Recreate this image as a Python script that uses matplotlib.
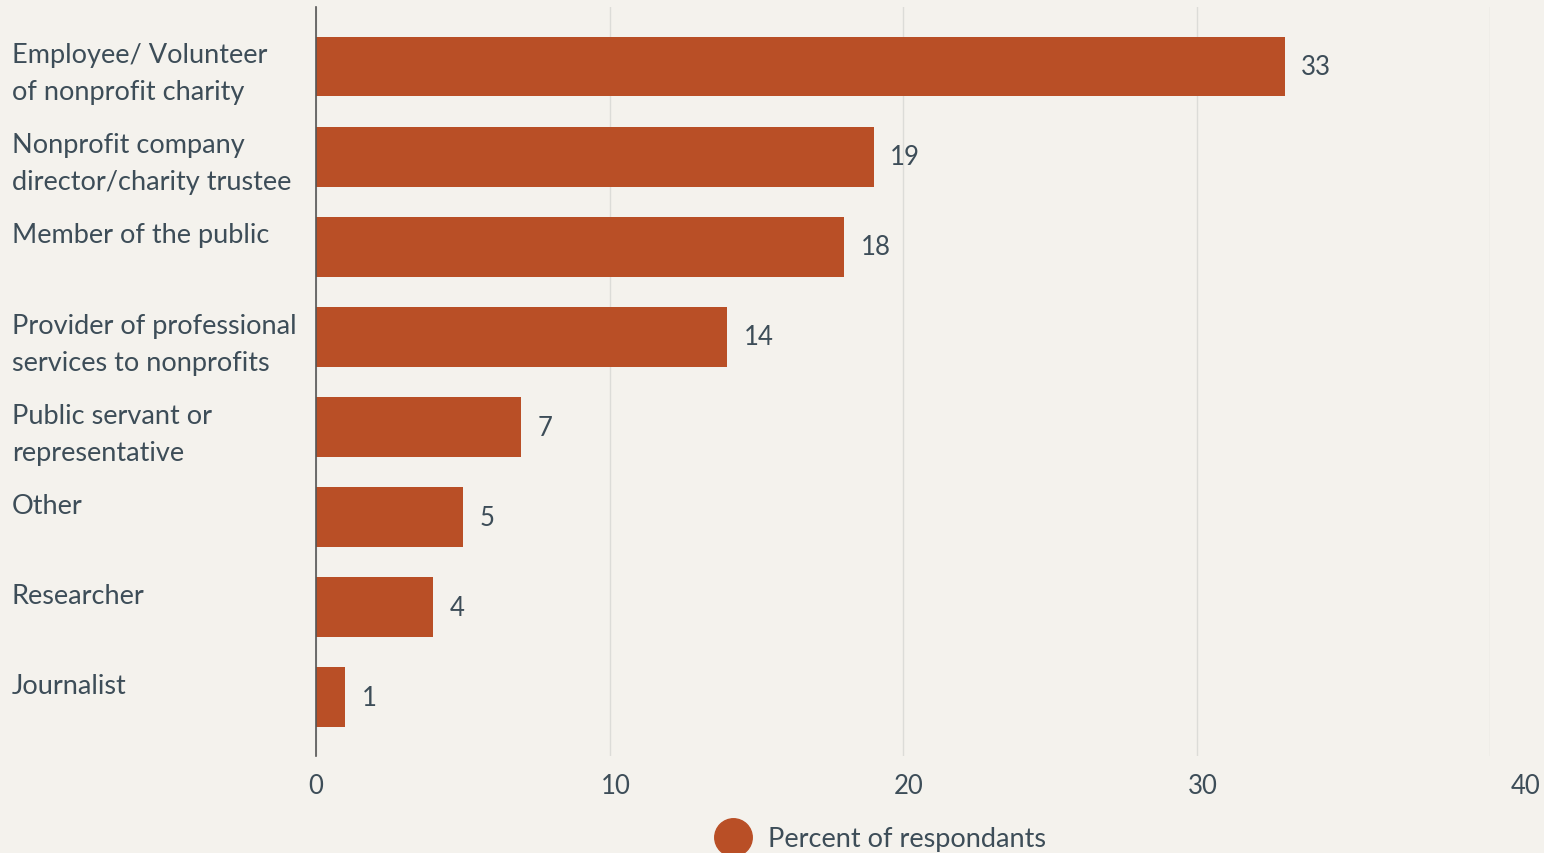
import matplotlib
matplotlib.use("Agg")
import matplotlib.pyplot as plt
import matplotlib.transforms as mtransforms
from matplotlib.lines import Line2D

# survey respondents by role, percent
roles = [
    "Employee/ Volunteer\nof nonprofit charity",
    "Nonprofit company\ndirector/charity trustee",
    "Member of the public",
    "Provider of professional\nservices to nonprofits",
    "Public servant or\nrepresentative",
    "Other",
    "Researcher",
    "Journalist",
]
percents = [33, 19, 18, 14, 7, 5, 4, 1]
x_ticks = [0, 10, 20, 30, 40]

BG = "#f4f2ed"
BAR = "#b94f26"
TEXT = "#3d4d58"

plt.rcParams["font.family"] = ["Lato", "DejaVu Sans"]

fig = plt.figure(figsize=(15.44, 8.54), dpi=100, facecolor=BG)
ax = fig.add_axes([316 / 1544, 1 - 757 / 854, (1490 - 316) / 1544, (757 - 8) / 854])
ax.set_facecolor(BG)

ypos = list(range(len(roles)))
ax.barh(ypos, percents, height=0.665, color=BAR, zorder=3)

for y, v in zip(ypos, percents):
    ax.annotate(str(v), (v, y), xytext=(12, 0), textcoords="offset points",
                va="center", ha="left", fontsize=18.5, color=TEXT)

# category names sit flush left, starting level with the top of each bar
label_tf = mtransforms.blended_transform_factory(fig.transFigure, ax.transData)
for y, name in zip(ypos, roles):
    ax.text(12 / 1544, y - 0.27, name, transform=label_tf,
            ha="left", va="top", fontsize=19.5, color=TEXT, linespacing=1.6)

ax.set_xlim(0, 40)
ax.set_ylim(len(roles) - 1 + 0.65, -0.66)
ax.set_xticks(x_ticks)
ax.set_xticklabels([str(t) for t in x_ticks], fontsize=18.5, color=TEXT)
ax.set_yticks([])
ax.tick_params(axis="x", length=0, pad=12)

# nudge the tick labels slightly right of their gridlines
shifts = [0, 6, 6, 6, 36]
for lab, dx in zip(ax.get_xticklabels(), shifts):
    lab.set_transform(lab.get_transform() +
                      mtransforms.ScaledTranslation(dx / 100, 0, fig.dpi_scale_trans))

ax.grid(axis="x", color="#dcdcd8", linewidth=1, zorder=0)
for side in ["top", "right", "bottom"]:
    ax.spines[side].set_visible(False)
ax.spines["left"].set_color("#555555")
ax.spines["left"].set_linewidth(1.2)
ax.spines["left"].set_zorder(4)

handle = Line2D([], [], marker="o", linestyle="none", markersize=27,
                markerfacecolor=BAR, markeredgecolor=BAR)
fig.legend([handle], ["Percent of respondants"], loc="center",
           bbox_to_anchor=(876 / 1544, 14 / 854), frameon=False,
           fontsize=19.5, labelcolor=TEXT, handletextpad=0.3)

fig.savefig("out.png", dpi=100, facecolor=BG)
